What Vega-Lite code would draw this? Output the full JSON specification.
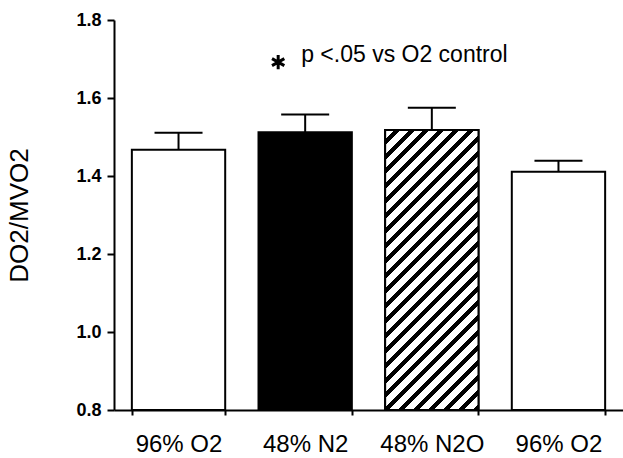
{
  "$schema": "https://vega.github.io/schema/vega-lite/v6.json",
  "width": 509,
  "height": 390,
  "autosize": {"type": "none"},
  "padding": {"left": 114, "top": 20, "right": 0, "bottom": 48},
  "background": "white",
  "config": {"view": {"stroke": null}, "font": "Liberation Sans"},
  "datasets": {
    "bars": [
      {"group": "96% O2", "gas": "O2", "mean": 1.467, "upper": 1.511},
      {"group": "48% N2", "gas": "N2", "mean": 1.512, "upper": 1.558},
      {"group": "48% N2O", "gas": "N2O", "mean": 1.518, "upper": 1.575},
      {"group": "96% O2 ", "gas": "O2", "mean": 1.411, "upper": 1.439}
    ],
    "note": [
      {"group": "48% N2", "star": 1.692, "level": 1.71, "label": "p <.05 vs O2 control"}
    ]
  },
  "layer": [
    {
      "data": {"name": "bars"},
      "mark": {"type": "bar", "stroke": "black", "strokeWidth": 2},
      "encoding": {
        "x": {
          "field": "group", "type": "nominal", "sort": null,
          "scale": {"paddingInner": 0.263, "paddingOuter": 0.141},
          "axis": {
            "title": null, "labelAngle": 0, "labelFontSize": 24, "labelColor": "black",
            "labelPadding": 17, "ticks": true, "tickBand": "extent", "tickSize": 5,
            "tickWidth": 2, "tickColor": "black", "domainWidth": 2, "domainColor": "black"
          }
        },
        "y": {
          "field": "mean", "type": "quantitative",
          "scale": {"domain": [0.8, 1.8], "zero": false, "nice": false},
          "axis": {
            "title": "DO2/MVO2", "titleFontSize": 26, "titleFontWeight": "normal",
            "titleColor": "black", "titlePadding": 43, "grid": false,
            "values": [0.8, 0.9, 1.0, 1.1, 1.2, 1.3, 1.4, 1.5, 1.6, 1.7, 1.8],
            "labelExpr": "round(datum.value * 10) % 2 == 0 ? format(datum.value, '.1f') : ''",
            "labelFontSize": 18, "labelFontWeight": "bold", "labelColor": "black",
            "labelPadding": 6,
            "tickSize": {"condition": {"test": "round(datum.value * 10) % 2 == 0", "value": 7}, "value": 4},
            "tickWidth": 2, "tickColor": "black", "domainWidth": 2, "domainColor": "black"
          }
        },
        "y2": {"datum": 0.8},
        "fill": {
          "field": "gas", "type": "nominal",
          "scale": {"domain": ["O2", "N2", "N2O"], "range": ["white", "black", "white"]},
          "legend": null
        }
      }
    },
    {
      "data": {"name": "bars"},
      "transform": [{"filter": "datum.gas === 'N2O'"}],
      "mark": {
        "type": "bar", "stroke": "black", "strokeWidth": 2,
        "fill": {
          "gradient": "linear", "x1": 0, "y1": 0, "x2": 0.4, "y2": 1.2,
          "stops": [
            {"offset": 0, "color": "white"}, {"offset": 0.024, "color": "white"}, {"offset": 0.024, "color": "black"}, {"offset": 0.04, "color": "black"},
            {"offset": 0.04, "color": "white"}, {"offset": 0.064, "color": "white"}, {"offset": 0.064, "color": "black"}, {"offset": 0.08, "color": "black"},
            {"offset": 0.08, "color": "white"}, {"offset": 0.104, "color": "white"}, {"offset": 0.104, "color": "black"}, {"offset": 0.12, "color": "black"},
            {"offset": 0.12, "color": "white"}, {"offset": 0.144, "color": "white"}, {"offset": 0.144, "color": "black"}, {"offset": 0.16, "color": "black"},
            {"offset": 0.16, "color": "white"}, {"offset": 0.184, "color": "white"}, {"offset": 0.184, "color": "black"}, {"offset": 0.2, "color": "black"},
            {"offset": 0.2, "color": "white"}, {"offset": 0.224, "color": "white"}, {"offset": 0.224, "color": "black"}, {"offset": 0.24, "color": "black"},
            {"offset": 0.24, "color": "white"}, {"offset": 0.264, "color": "white"}, {"offset": 0.264, "color": "black"}, {"offset": 0.28, "color": "black"},
            {"offset": 0.28, "color": "white"}, {"offset": 0.304, "color": "white"}, {"offset": 0.304, "color": "black"}, {"offset": 0.32, "color": "black"},
            {"offset": 0.32, "color": "white"}, {"offset": 0.344, "color": "white"}, {"offset": 0.344, "color": "black"}, {"offset": 0.36, "color": "black"},
            {"offset": 0.36, "color": "white"}, {"offset": 0.384, "color": "white"}, {"offset": 0.384, "color": "black"}, {"offset": 0.4, "color": "black"},
            {"offset": 0.4, "color": "white"}, {"offset": 0.424, "color": "white"}, {"offset": 0.424, "color": "black"}, {"offset": 0.44, "color": "black"},
            {"offset": 0.44, "color": "white"}, {"offset": 0.464, "color": "white"}, {"offset": 0.464, "color": "black"}, {"offset": 0.48, "color": "black"},
            {"offset": 0.48, "color": "white"}, {"offset": 0.504, "color": "white"}, {"offset": 0.504, "color": "black"}, {"offset": 0.52, "color": "black"},
            {"offset": 0.52, "color": "white"}, {"offset": 0.544, "color": "white"}, {"offset": 0.544, "color": "black"}, {"offset": 0.56, "color": "black"},
            {"offset": 0.56, "color": "white"}, {"offset": 0.584, "color": "white"}, {"offset": 0.584, "color": "black"}, {"offset": 0.6, "color": "black"},
            {"offset": 0.6, "color": "white"}, {"offset": 0.624, "color": "white"}, {"offset": 0.624, "color": "black"}, {"offset": 0.64, "color": "black"},
            {"offset": 0.64, "color": "white"}, {"offset": 0.664, "color": "white"}, {"offset": 0.664, "color": "black"}, {"offset": 0.68, "color": "black"},
            {"offset": 0.68, "color": "white"}, {"offset": 0.704, "color": "white"}, {"offset": 0.704, "color": "black"}, {"offset": 0.72, "color": "black"},
            {"offset": 0.72, "color": "white"}, {"offset": 0.744, "color": "white"}, {"offset": 0.744, "color": "black"}, {"offset": 0.76, "color": "black"},
            {"offset": 0.76, "color": "white"}, {"offset": 0.784, "color": "white"}, {"offset": 0.784, "color": "black"}, {"offset": 0.8, "color": "black"},
            {"offset": 0.8, "color": "white"}, {"offset": 0.824, "color": "white"}, {"offset": 0.824, "color": "black"}, {"offset": 0.84, "color": "black"},
            {"offset": 0.84, "color": "white"}, {"offset": 0.864, "color": "white"}, {"offset": 0.864, "color": "black"}, {"offset": 0.88, "color": "black"},
            {"offset": 0.88, "color": "white"}, {"offset": 0.904, "color": "white"}, {"offset": 0.904, "color": "black"}, {"offset": 0.92, "color": "black"},
            {"offset": 0.92, "color": "white"}, {"offset": 0.944, "color": "white"}, {"offset": 0.944, "color": "black"}, {"offset": 0.96, "color": "black"},
            {"offset": 0.96, "color": "white"}, {"offset": 0.984, "color": "white"}, {"offset": 0.984, "color": "black"}, {"offset": 1, "color": "black"}
          ]
        }
      },
      "encoding": {
        "x": {"field": "group", "type": "nominal", "sort": null},
        "y": {"field": "mean", "type": "quantitative"},
        "y2": {"datum": 0.8}
      }
    },
    {
      "data": {"name": "bars"},
      "mark": {"type": "rule", "color": "black", "strokeWidth": 2},
      "encoding": {
        "x": {"field": "group", "type": "nominal", "sort": null},
        "y": {"field": "mean", "type": "quantitative"},
        "y2": {"field": "upper"}
      }
    },
    {
      "data": {"name": "bars"},
      "mark": {"type": "tick", "color": "black", "size": 48, "thickness": 2, "opacity": 1},
      "encoding": {
        "x": {"field": "group", "type": "nominal", "sort": null},
        "y": {"field": "upper", "type": "quantitative"}
      }
    },
    {
      "data": {"name": "note"},
      "mark": {
        "type": "point", "shape": "M0,-1L0,1M-0.87,-0.5L0.87,0.5M-0.87,0.5L0.87,-0.5",
        "filled": false, "stroke": "black", "strokeWidth": 3, "size": 200, "opacity": 1,
        "xOffset": -27
      },
      "encoding": {
        "x": {"field": "group", "type": "nominal", "sort": null},
        "y": {"field": "star", "type": "quantitative"}
      }
    },
    {
      "data": {"name": "note"},
      "mark": {"type": "text", "align": "left", "baseline": "middle", "dx": -4, "fontSize": 23, "color": "black"},
      "encoding": {
        "x": {"field": "group", "type": "nominal", "sort": null},
        "y": {"field": "level", "type": "quantitative"},
        "text": {"field": "label"}
      }
    }
  ]
}
